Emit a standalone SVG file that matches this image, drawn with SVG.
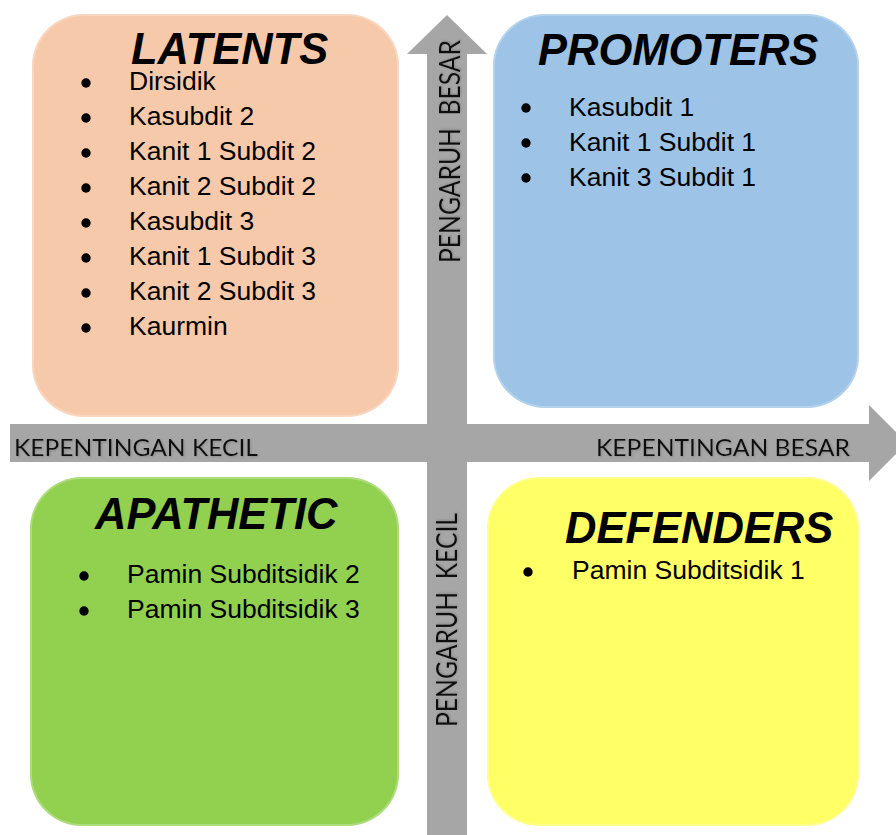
<svg xmlns="http://www.w3.org/2000/svg" width="896" height="835" viewBox="0 0 896 835">
<style>
.title{font-family:"Liberation Sans",Arial,sans-serif;font-weight:bold;font-style:italic;font-size:43.5px;fill:#000}
.item{font-family:"Liberation Sans",Arial,sans-serif;font-size:26.5px;fill:#000}
.axis{font-family:Lato,"Open Sans",sans-serif;fill:#111}
.bar{fill:#A6A6A6}
.edge{fill:none;stroke:#fff;stroke-opacity:0.25;stroke-width:2}
</style>
<defs>
<filter id="sh" x="-10%" y="-30%" width="120%" height="160%">
<feDropShadow dx="1" dy="1" stdDeviation="1" flood-color="#777" flood-opacity="0.6"/>
</filter>
</defs>
<g id="axes">
<rect class="bar" x="10" y="424" width="862" height="38"/>
<polygon class="bar" points="869,405 907,443 869,481"/>
<rect class="bar" x="427" y="52" width="40" height="783"/>
<polygon class="bar" points="407,54 447,15 487,54"/>
<text class="axis" x="14" y="456" font-size="24" textLength="244" lengthAdjust="spacingAndGlyphs" filter="url(#sh)">KEPENTINGAN KECIL</text>
<text class="axis" x="596" y="456" font-size="24" textLength="254" lengthAdjust="spacingAndGlyphs" filter="url(#sh)">KEPENTINGAN BESAR</text>
<text class="axis" transform="translate(460,263) rotate(-90)" font-size="29" textLength="223" lengthAdjust="spacingAndGlyphs" filter="url(#sh)" xml:space="preserve">PENGARUH  BESAR</text>
<text class="axis" transform="translate(457,727) rotate(-90)" font-size="29" textLength="214" lengthAdjust="spacingAndGlyphs" filter="url(#sh)" xml:space="preserve">PENGARUH  KECIL</text>
</g>
<g id="latents">
<rect x="32" y="14" width="367" height="403" rx="52" fill="#F7C9AB"/>
<rect class="edge" x="33" y="15" width="365" height="401" rx="51"/>
<text class="title" x="131" y="64">LATENTS</text>
<g fill="#000">
<circle cx="86" cy="83" r="4.7"/><circle cx="86" cy="118" r="4.7"/><circle cx="86" cy="153" r="4.7"/><circle cx="86" cy="188" r="4.7"/>
<circle cx="86" cy="223" r="4.7"/><circle cx="86" cy="258" r="4.7"/><circle cx="86" cy="293" r="4.7"/><circle cx="86" cy="328" r="4.7"/>
</g>
<text class="item" x="129" y="90">Dirsidik</text>
<text class="item" x="129" y="125">Kasubdit 2</text>
<text class="item" x="129" y="160">Kanit 1 Subdit 2</text>
<text class="item" x="129" y="195">Kanit 2 Subdit 2</text>
<text class="item" x="129" y="230">Kasubdit 3</text>
<text class="item" x="129" y="265">Kanit 1 Subdit 3</text>
<text class="item" x="129" y="300">Kanit 2 Subdit 3</text>
<text class="item" x="129" y="335">Kaurmin</text>
</g>
<g id="promoters">
<rect x="493" y="14" width="366" height="394" rx="52" fill="#9DC3E6"/>
<rect class="edge" x="494" y="15" width="364" height="392" rx="51"/>
<text class="title" x="538" y="65">PROMOTERS</text>
<g fill="#000"><circle cx="526" cy="108" r="4.7"/><circle cx="526" cy="143" r="4.7"/><circle cx="526" cy="178" r="4.7"/></g>
<text class="item" x="569" y="116">Kasubdit 1</text>
<text class="item" x="569" y="151">Kanit 1 Subdit 1</text>
<text class="item" x="569" y="186">Kanit 3 Subdit 1</text>
</g>
<g id="apathetic">
<rect x="30" y="477" width="369" height="349" rx="52" fill="#92D050"/>
<rect class="edge" x="31" y="478" width="367" height="347" rx="51"/>
<text class="title" x="95" y="529">APATHETIC</text>
<g fill="#000"><circle cx="84" cy="576" r="4.7"/><circle cx="84" cy="611" r="4.7"/></g>
<text class="item" x="127" y="583">Pamin Subditsidik 2</text>
<text class="item" x="127" y="618">Pamin Subditsidik 3</text>
</g>
<g id="defenders">
<rect x="487" y="477" width="372" height="349" rx="52" fill="#FFFF66"/>
<rect class="edge" x="488" y="478" width="370" height="347" rx="51"/>
<text class="title" x="565" y="543">DEFENDERS</text>
<circle cx="528" cy="572" r="4.7" fill="#000"/>
<text class="item" x="572" y="579">Pamin Subditsidik 1</text>
</g>
</svg>
